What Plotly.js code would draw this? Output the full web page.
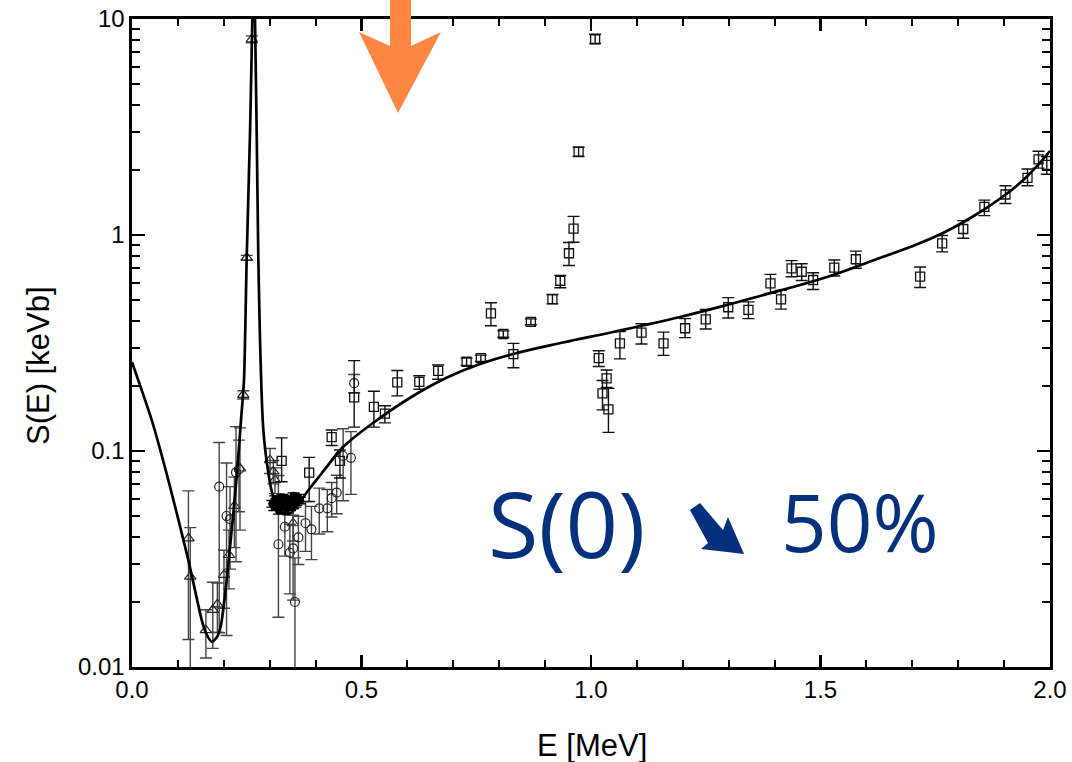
<!DOCTYPE html>
<html>
<head>
<meta charset="utf-8">
<script src="https://cdn.plot.ly/plotly-3.0.1.min.js"></script>
<style>html,body{margin:0;padding:0;background:#fff;}#plot{width:1072px;height:762px;}</style>
</head>
<body>
<div id="plot"></div>
<script>
// ---- Data ----
// Open squares
const sqE  = [0.326,0.386,0.435,0.453,0.484,0.527,0.551,0.578,0.626,0.667,0.729,0.760,0.782,0.809,0.831,0.869,0.916,0.933,0.952,0.962,0.973,1.009,1.017,1.025,1.034,1.038,1.063,1.110,1.158,1.205,1.250,1.299,1.343,1.391,1.414,1.437,1.459,1.484,1.530,1.577,1.717,1.765,1.811,1.857,1.903,1.951,1.975,1.993];
const sqS  = [0.090,0.0794,0.116,0.090,0.177,0.160,0.149,0.208,0.209,0.235,0.259,0.269,0.434,0.348,0.281,0.396,0.505,0.614,0.823,1.07,2.43,8.05,0.269,0.185,0.217,0.156,0.315,0.353,0.315,0.370,0.407,0.463,0.450,0.597,0.504,0.701,0.676,0.619,0.706,0.772,0.641,0.915,1.066,1.35,1.54,1.84,2.24,2.11];
const sqUp = [0.025,0.014,0.009,0.011,0.085,0.029,0.013,0.028,0.014,0.015,0.010,0.009,0.052,0.012,0.034,0.013,0.025,0.036,0.10,0.15,0.12,0.45,0.022,0.027,0.020,0.039,0.042,0.035,0.040,0.040,0.045,0.050,0.040,0.060,0.050,0.060,0.060,0.050,0.060,0.070,0.070,0.080,0.10,0.10,0.15,0.18,0.20,0.20];
const sqDn = [0.018,0.021,0.010,0.015,0.048,0.031,0.014,0.028,0.016,0.020,0.010,0.009,0.054,0.012,0.038,0.012,0.025,0.044,0.10,0.145,0.12,0.35,0.023,0.030,0.020,0.034,0.048,0.040,0.038,0.035,0.040,0.050,0.040,0.060,0.050,0.060,0.060,0.060,0.060,0.070,0.070,0.080,0.10,0.12,0.14,0.15,0.20,0.20];

// Open circles
const ciE  = [0.190,0.206,0.2135,0.2266,0.233,0.319,0.333,0.344,0.351,0.355,0.3625,0.378,0.391,0.408,0.4255,0.435,0.446,0.460,0.477,0.484];
const ciS  = [0.0684,0.050,0.0484,0.0797,0.0823,0.037,0.0446,0.0338,0.0354,0.020,0.0398,0.0463,0.0434,0.0543,0.0543,0.0605,0.0642,0.0948,0.093,0.206];
const ciUp = [0.041,0.038,0.020,0.050,0.030,0.040,0.012,0.012,0.015,0.012,0.010,0.012,0.012,0.013,0.012,0.011,0.013,0.032,0.030,0.020];
const ciDn = [0.054,0.036,0.020,0.049,0.030,0.020,0.012,0.012,0.015,0.0105,0.010,0.012,0.012,0.013,0.012,0.011,0.013,0.036,0.030,0.020];

// Open triangles
const trE  = [0.123,0.127,0.161,0.176,0.186,0.2004,0.2113,0.223,0.2353,0.2425,0.250,0.261,0.3007,0.308,0.3115,0.351];
const trS  = [0.0394,0.0262,0.0148,0.0184,0.0195,0.0267,0.033,0.0557,0.083,0.182,0.785,8.05,0.0907,0.0804,0.0735,0.0463];
const trUp = [0.026,0.018,0.0036,0.0063,0.005,0.008,0.010,0.020,0.045,0.008,0.020,0.30,0.012,0.010,0.010,0.008];
const trDn = [0.026,0.0255,0.0038,0.0062,0.005,0.008,0.010,0.020,0.040,0.008,0.020,0.30,0.012,0.010,0.010,0.008];

// Dense filled cluster
const clE = [0.306,0.310,0.314,0.318,0.322,0.326,0.330,0.334,0.338,0.342,0.346,0.350,0.354,0.358,0.362,0.366,0.312,0.328,0.344,0.356,0.320,0.336,0.352];
const clS = [0.057,0.055,0.058,0.056,0.059,0.057,0.055,0.058,0.060,0.057,0.059,0.056,0.060,0.058,0.061,0.059,0.060,0.061,0.055,0.057,0.053,0.054,0.062];
const clEr = [0.002,0.002,0.002,0.002,0.002,0.002,0.002,0.002,0.002,0.002,0.002,0.002,0.002,0.002,0.002,0.002,0.002,0.002,0.002,0.002,0.002,0.002,0.002];

// Fit curve (left part with the narrow resonance, and the smooth rising part)
const fitE = [0.000,0.0429,0.0828,0.1227,0.1519,0.1612,0.1736,0.1852,0.1939,0.2063,0.2172,0.2281,0.2375,0.2440,0.2499,0.2571,0.2621,0.2650,0.2680,0.2717,0.2752,0.2789,0.2821,0.2854,0.2898,0.2952,0.3028,0.3137,0.3290,0.3464,0.3660,0.3878,0.4139,0.4357,0.4597];
const fitS = [0.258,0.1392,0.0684,0.0313,0.0165,0.01437,0.01309,0.01377,0.01565,0.0253,0.0431,0.0760,0.1392,0.2131,0.785,2.96,9.89,25,9.89,2.97,0.782,0.3266,0.1916,0.1319,0.1032,0.0843,0.0674,0.0562,0.0511,0.0516,0.0582,0.0674,0.0791,0.0908,0.1043];
const fit2E = [0.4357,0.4597,0.5251,0.6122,0.6863,0.7582,0.8301,0.9390,1.0479,1.1939,1.2963,1.3682,1.5142,1.6231,1.6950,1.7669,1.8322,1.9063,1.9499,2.0000];
const fit2S = [0.0908,0.1043,0.1348,0.1797,0.2189,0.2528,0.2812,0.3179,0.3556,0.4172,0.4742,0.5220,0.6391,0.7743,0.8799,1.0216,1.218,1.556,1.866,2.448];

// Axis ticks
const xTickVals = [0, 0.5, 1.0, 1.5, 2.0];
const xTickText = ['0.0','0.5','1.0','1.5','2.0'];
const yTickVals = [0.01, 0.1, 1, 10];
const yTickText = ['0.01','0.1','1','10'];
const yMinorVals = [0.02,0.03,0.04,0.05,0.06,0.07,0.08,0.09,0.2,0.3,0.4,0.5,0.6,0.7,0.8,0.9,2,3,4,5,6,7,8,9];

// ---- Layout geometry (pixels) ----
const W = 1072, H = 762, L = 132, R = 22, T = 19, B = 95;
const PW = W - L - R, PH = H - T - B;
function P(px, py) { return ((px - L) / PW).toFixed(4) + ',' + ((H - B - py) / PH).toFixed(4); }
function path(pts) { return 'M' + pts.map(p => P(p[0], p[1])).join(' L') + ' Z'; }

const grayErr = '#444';
function errs(up, dn, color) {
  return {type:'data', symmetric:false, array:up, arrayminus:dn, color:color, thickness:1.4, width:6};
}

const traces = [
  {x:trE, y:trS, type:'scatter', mode:'markers', error_y:errs(trUp,trDn,grayErr),
   marker:{symbol:'triangle-up-open', size:10, color:'#222', line:{width:1.2}}},
  {x:ciE, y:ciS, type:'scatter', mode:'markers', error_y:errs(ciUp,ciDn,grayErr),
   marker:{symbol:'circle-open', size:9, color:'#222', line:{width:1.2}}},
  {x:sqE, y:sqS, type:'scatter', mode:'markers', error_y:errs(sqUp,sqDn,'#111'),
   marker:{symbol:'square-open', size:9, color:'#111', line:{width:1.3}}},
  {x:clE, y:clS, type:'scatter', mode:'markers', error_y:errs(clEr,clEr,'#000'),
   marker:{symbol:'circle', size:8, color:'#000'}},
  {x:fitE, y:fitS, type:'scatter', mode:'lines', line:{color:'#000', width:2.7, shape:'spline', smoothing:0.6}},
  {x:fit2E, y:fit2S, type:'scatter', mode:'lines', line:{color:'#000', width:2.7, shape:'spline', smoothing:1.2}}
];

const tickFont = {family:'"Liberation Sans", Arial, Helvetica, sans-serif', size:24, color:'#000'};
const navy = '#04307e';

const layout = {
  width:W, height:H, showlegend:false,
  margin:{l:L, r:R, t:T, b:B},
  paper_bgcolor:'#fff', plot_bgcolor:'#fff',
  xaxis:{range:[0,2], tickmode:'array', tickvals:xTickVals, ticktext:xTickText,
    ticks:'inside', ticklen:12, tickwidth:2.2, tickcolor:'#000',
    showline:true, linewidth:2.6, linecolor:'#000', mirror:'ticks',
    showgrid:false, zeroline:false, tickfont:tickFont,
    minor:{ticks:'inside', dtick:0.1, tick0:0, ticklen:7, tickwidth:2, tickcolor:'#000', showgrid:false}},
  yaxis:{type:'log', range:[-2,1], tickmode:'array', tickvals:yTickVals, ticktext:yTickText,
    ticks:'inside', ticklen:13, tickwidth:2.2, tickcolor:'#000',
    showline:true, linewidth:2.6, linecolor:'#000', mirror:'ticks',
    showgrid:false, zeroline:false, tickfont:tickFont,
    minor:{ticks:'inside', tickmode:'array', tickvals:yMinorVals, ticklen:8, tickwidth:2, tickcolor:'#000', showgrid:false}},
  annotations:[
    {text:'E [MeV]', xref:'paper', yref:'paper', x:(592-L)/PW, y:(H-B-745)/PH, xanchor:'center', yanchor:'middle', showarrow:false,
     font:{family:'"Liberation Sans", Arial, sans-serif', size:31, color:'#000'}},
    {text:'S(E) [keVb]', xref:'paper', yref:'paper', x:(38-L)/PW, y:(H-B-366)/PH, xanchor:'center', yanchor:'middle', textangle:-90, showarrow:false,
     font:{family:'"Liberation Sans", Arial, sans-serif', size:31, color:'#000'}},
    {text:'S(0)', xref:'paper', yref:'paper', x:(566-L)/PW, y:(H-B-522)/PH, xanchor:'center', yanchor:'middle', showarrow:false,
     font:{family:'"Open Sans", "Noto Sans", sans-serif', size:92, color:navy}},
    {text:'50%', xref:'paper', yref:'paper', x:(860-L)/PW, y:(H-B-520)/PH, xanchor:'center', yanchor:'middle', showarrow:false,
     font:{family:'"Open Sans", "Noto Sans", sans-serif', size:80, color:navy}}
  ],
  shapes:[
    {type:'path', xref:'paper', yref:'paper', fillcolor:'#ff8743', line:{width:0},
     path:path([[390,-5],[411,-5],[411,46],[441,32],[398,113],[359,32],[390,46]])},
    {type:'path', xref:'paper', yref:'paper', fillcolor:navy, line:{width:0},
     path:path([[690,510],[708,543],[701,549],[744,554],[728,517],[723,530],[700,503]])}
  ]
};

Plotly.newPlot('plot', traces, layout, {displayModeBar:false, staticPlot:true});
</script>
</body>
</html>
